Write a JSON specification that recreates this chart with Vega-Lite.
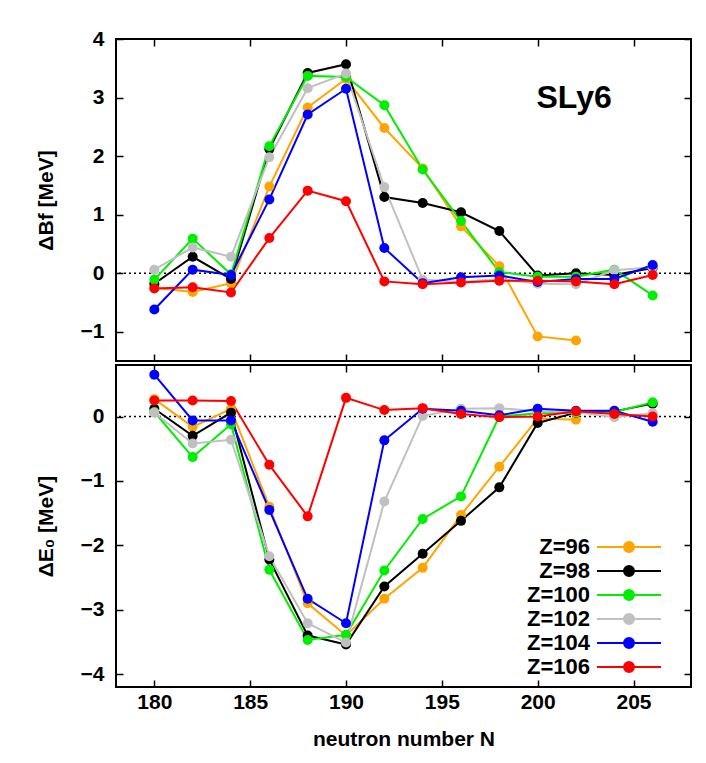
{
  "$schema": "https://vega.github.io/schema/vega-lite/v6.json",
  "padding": {"left": 34, "top": 27, "right": 16, "bottom": 8},
  "background": "white",
  "config": {
    "font": "Liberation Sans",
    "view": {"stroke": "black", "strokeWidth": 2},
    "concat": {"spacing": 0},
    "axis": {
      "domain": false, "grid": false, "tickSize": -7, "tickWidth": 1.5, "tickColor": "black",
      "labelFont": "Liberation Sans", "labelFontSize": 21, "labelFontWeight": "bold", "labelColor": "black", "labelPadding": 19,
      "titleFont": "Liberation Sans", "titleFontSize": 21, "titleFontWeight": "bold", "titleColor": "black"
    }
  },
  "datasets": {
    "rows": [
      {"N":180,"Z":"Z=96","dBf":-0.25,"dE0":0.27},{"N":182,"Z":"Z=96","dBf":-0.32,"dE0":-0.16},{"N":184,"Z":"Z=96","dBf":-0.17,"dE0":0.12},{"N":186,"Z":"Z=96","dBf":1.48,"dE0":-1.40},{"N":188,"Z":"Z=96","dBf":2.83,"dE0":-2.90},{"N":190,"Z":"Z=96","dBf":3.32,"dE0":-3.40},{"N":192,"Z":"Z=96","dBf":2.48,"dE0":-2.83},{"N":194,"Z":"Z=96","dBf":1.79,"dE0":-2.35},{"N":196,"Z":"Z=96","dBf":0.80,"dE0":-1.53},{"N":198,"Z":"Z=96","dBf":0.12,"dE0":-0.78},{"N":200,"Z":"Z=96","dBf":-1.08,"dE0":-0.03},{"N":202,"Z":"Z=96","dBf":-1.15,"dE0":-0.05},
      {"N":180,"Z":"Z=98","dBf":-0.18,"dE0":0.12},{"N":182,"Z":"Z=98","dBf":0.28,"dE0":-0.30},{"N":184,"Z":"Z=98","dBf":-0.10,"dE0":0.06},{"N":186,"Z":"Z=98","dBf":2.12,"dE0":-2.22},{"N":188,"Z":"Z=98","dBf":3.42,"dE0":-3.40},{"N":190,"Z":"Z=98","dBf":3.57,"dE0":-3.54},{"N":192,"Z":"Z=98","dBf":1.30,"dE0":-2.64},{"N":194,"Z":"Z=98","dBf":1.20,"dE0":-2.13},{"N":196,"Z":"Z=98","dBf":1.04,"dE0":-1.62},{"N":198,"Z":"Z=98","dBf":0.72,"dE0":-1.10},{"N":200,"Z":"Z=98","dBf":-0.04,"dE0":-0.10},{"N":202,"Z":"Z=98","dBf":0.0,"dE0":0.06},{"N":204,"Z":"Z=98","dBf":-0.03,"dE0":0.08},{"N":206,"Z":"Z=98","dBf":0.09,"dE0":0.20},
      {"N":180,"Z":"Z=100","dBf":-0.11,"dE0":0.07},{"N":182,"Z":"Z=100","dBf":0.59,"dE0":-0.63},{"N":184,"Z":"Z=100","dBf":-0.02,"dE0":-0.12},{"N":186,"Z":"Z=100","dBf":2.17,"dE0":-2.38},{"N":188,"Z":"Z=100","dBf":3.37,"dE0":-3.47},{"N":190,"Z":"Z=100","dBf":3.35,"dE0":-3.39},{"N":192,"Z":"Z=100","dBf":2.87,"dE0":-2.39},{"N":194,"Z":"Z=100","dBf":1.77,"dE0":-1.59},{"N":196,"Z":"Z=100","dBf":0.89,"dE0":-1.24},{"N":198,"Z":"Z=100","dBf":0.02,"dE0":0.00},{"N":200,"Z":"Z=100","dBf":-0.06,"dE0":0.05},{"N":202,"Z":"Z=100","dBf":-0.06,"dE0":0.06},{"N":204,"Z":"Z=100","dBf":0.06,"dE0":0.07},{"N":206,"Z":"Z=100","dBf":-0.38,"dE0":0.22},
      {"N":180,"Z":"Z=102","dBf":0.06,"dE0":0.06},{"N":182,"Z":"Z=102","dBf":0.44,"dE0":-0.42},{"N":184,"Z":"Z=102","dBf":0.28,"dE0":-0.36},{"N":186,"Z":"Z=102","dBf":1.98,"dE0":-2.17},{"N":188,"Z":"Z=102","dBf":3.16,"dE0":-3.21},{"N":190,"Z":"Z=102","dBf":3.41,"dE0":-3.51},{"N":192,"Z":"Z=102","dBf":1.47,"dE0":-1.32},{"N":194,"Z":"Z=102","dBf":-0.11,"dE0":0.01},{"N":196,"Z":"Z=102","dBf":-0.15,"dE0":0.12},{"N":198,"Z":"Z=102","dBf":-0.10,"dE0":0.13},{"N":200,"Z":"Z=102","dBf":-0.18,"dE0":0.08},{"N":202,"Z":"Z=102","dBf":-0.19,"dE0":0.07},{"N":204,"Z":"Z=102","dBf":0.05,"dE0":-0.01},{"N":206,"Z":"Z=102","dBf":0.10,"dE0":0.05},
      {"N":180,"Z":"Z=104","dBf":-0.62,"dE0":0.65},{"N":182,"Z":"Z=104","dBf":0.06,"dE0":-0.06},{"N":184,"Z":"Z=104","dBf":-0.03,"dE0":-0.06},{"N":186,"Z":"Z=104","dBf":1.26,"dE0":-1.45},{"N":188,"Z":"Z=104","dBf":2.71,"dE0":-2.83},{"N":190,"Z":"Z=104","dBf":3.15,"dE0":-3.21},{"N":192,"Z":"Z=104","dBf":0.43,"dE0":-0.37},{"N":194,"Z":"Z=104","dBf":-0.17,"dE0":0.12},{"N":196,"Z":"Z=104","dBf":-0.07,"dE0":0.09},{"N":198,"Z":"Z=104","dBf":-0.04,"dE0":0.02},{"N":200,"Z":"Z=104","dBf":-0.15,"dE0":0.12},{"N":202,"Z":"Z=104","dBf":-0.10,"dE0":0.09},{"N":204,"Z":"Z=104","dBf":-0.10,"dE0":0.09},{"N":206,"Z":"Z=104","dBf":0.14,"dE0":-0.08},
      {"N":180,"Z":"Z=106","dBf":-0.26,"dE0":0.25},{"N":182,"Z":"Z=106","dBf":-0.24,"dE0":0.25},{"N":184,"Z":"Z=106","dBf":-0.33,"dE0":0.24},{"N":186,"Z":"Z=106","dBf":0.60,"dE0":-0.75},{"N":188,"Z":"Z=106","dBf":1.41,"dE0":-1.55},{"N":190,"Z":"Z=106","dBf":1.23,"dE0":0.29},{"N":192,"Z":"Z=106","dBf":-0.14,"dE0":0.10},{"N":194,"Z":"Z=106","dBf":-0.19,"dE0":0.13},{"N":196,"Z":"Z=106","dBf":-0.16,"dE0":0.04},{"N":198,"Z":"Z=106","dBf":-0.13,"dE0":-0.01},{"N":200,"Z":"Z=106","dBf":-0.13,"dE0":0.00},{"N":202,"Z":"Z=106","dBf":-0.14,"dE0":0.08},{"N":204,"Z":"Z=106","dBf":-0.19,"dE0":0.04},{"N":206,"Z":"Z=106","dBf":-0.03,"dE0":0.00}
    ]
  },
  "data": {"name": "rows"},
  "resolve": {"legend": {"color": "independent"}},
  "vconcat": [
    {
      "width": 575, "height": 322,
      "resolve": {"axis": {"x": "independent", "y": "independent"}},
      "layer": [
        {
          "data": {"values": [{"ref": 0}]},
          "mark": {"type": "rule", "strokeDash": [2, 3], "strokeWidth": 1.5, "color": "black"},
          "encoding": {"y": {"field": "ref", "type": "quantitative", "scale": {"domain": [-1.5, 4]}, "axis": null}}
        },
        {
          "mark": {"type": "line", "strokeWidth": 2},
          "encoding": {
            "x": {"field": "N", "type": "quantitative", "scale": {"domain": [178, 208], "nice": false}, "axis": {"orient": "bottom", "values": [180,185,190,195,200,205], "labels": false, "title": null}},
            "y": {"field": "dBf", "type": "quantitative", "scale": {"domain": [-1.5, 4], "nice": false}, "axis": {"orient": "left", "values": [-1,0,1,2,3,4], "title": "ΔBf [MeV]", "titlePadding": 24, "labelFontSize": 21, "labelFontWeight": "bold", "titleFontSize": 21, "titleFontWeight": "bold", "labelPadding": 19}},
            "color": {"field": "Z", "type": "nominal", "scale": {"domain": ["Z=96","Z=98","Z=100","Z=102","Z=104","Z=106"], "range": ["#ffa500","#000000","#00ee00","#c0c0c0","#0000ff","#ff0000"]}, "legend": null}
          }
        },
        {
          "mark": {"type": "point", "filled": true, "size": 100, "opacity": 1},
          "encoding": {
            "x": {"field": "N", "type": "quantitative", "scale": {"domain": [178, 208], "nice": false}, "axis": {"orient": "top", "values": [180,185,190,195,200,205], "labels": false, "title": null}},
            "y": {"field": "dBf", "type": "quantitative", "scale": {"domain": [-1.5, 4], "nice": false}, "axis": {"orient": "right", "values": [-1,0,1,2,3,4], "labels": false, "title": null}},
            "color": {"field": "Z", "type": "nominal", "legend": null}
          }
        },
        {
          "data": {"values": [{"label": "SLy6", "N": 201.9, "v": 3.0}]},
          "mark": {"type": "text", "font": "Liberation Sans", "fontSize": 32, "fontWeight": "bold", "color": "black", "baseline": "middle", "align": "center"},
          "encoding": {
            "x": {"field": "N", "type": "quantitative", "scale": {"domain": [178, 208]}, "axis": null},
            "y": {"field": "v", "type": "quantitative", "scale": {"domain": [-1.5, 4]}, "axis": null},
            "text": {"field": "label"}
          }
        }
      ]
    },
    {
      "width": 575, "height": 322,
      "resolve": {"axis": {"x": "independent", "y": "independent"}},
      "layer": [
        {
          "data": {"values": [{"ref": 0}]},
          "mark": {"type": "rule", "strokeDash": [2, 3], "strokeWidth": 1.5, "color": "black"},
          "encoding": {"y": {"field": "ref", "type": "quantitative", "scale": {"domain": [-4.2, 0.8]}, "axis": null}}
        },
        {
          "mark": {"type": "line", "strokeWidth": 2},
          "encoding": {
            "x": {"field": "N", "type": "quantitative", "scale": {"domain": [178, 208], "nice": false}, "axis": {"orient": "bottom", "values": [180,185,190,195,200,205], "title": "neutron number N", "titlePadding": 16, "labelFontSize": 21, "labelFontWeight": "bold", "titleFontSize": 21, "titleFontWeight": "bold", "labelPadding": 11}},
            "y": {"field": "dE0", "type": "quantitative", "scale": {"domain": [-4.2, 0.8], "nice": false}, "axis": {"orient": "left", "values": [-4,-3,-2,-1,0], "title": "ΔE₀ [MeV]", "titlePadding": 24, "labelFontSize": 21, "labelFontWeight": "bold", "titleFontSize": 21, "titleFontWeight": "bold", "labelPadding": 19}},
            "color": {"field": "Z", "type": "nominal",
              "legend": {"title": null, "orient": "none", "legendX": 502, "legendY": 171,
                "labelFont": "Liberation Sans", "labelFontSize": 22, "labelFontWeight": "bold", "labelColor": "black",
                "labelAlign": "right", "labelOffset": -50, "rowPadding": 2,
                "symbolType": "M-6.4,0L6.4,0M1,0A1,1,0,1,1,-1,0A1,1,0,1,1,1,0Z",
                "symbolSize": 100, "symbolStrokeWidth": 2,
                "encode": {"symbols": {"update": {"fill": {"scale": "color", "field": "value"}, "stroke": {"scale": "color", "field": "value"}, "strokeWidth": {"value": 2}, "opacity": {"value": 1}}}}}}
          }
        },
        {
          "mark": {"type": "point", "filled": true, "size": 100, "opacity": 1},
          "encoding": {
            "x": {"field": "N", "type": "quantitative", "scale": {"domain": [178, 208], "nice": false}, "axis": {"orient": "top", "values": [180,185,190,195,200,205], "labels": false, "title": null}},
            "y": {"field": "dE0", "type": "quantitative", "scale": {"domain": [-4.2, 0.8], "nice": false}, "axis": {"orient": "right", "values": [-4,-3,-2,-1,0], "labels": false, "title": null}},
            "color": {"field": "Z", "type": "nominal",
              "legend": {"title": null, "orient": "none", "legendX": 502, "legendY": 171,
                "labelFont": "Liberation Sans", "labelFontSize": 22, "labelFontWeight": "bold", "labelColor": "black",
                "labelAlign": "right", "labelOffset": -50, "rowPadding": 2,
                "symbolType": "M-6.4,0L6.4,0M1,0A1,1,0,1,1,-1,0A1,1,0,1,1,1,0Z",
                "symbolSize": 100, "symbolStrokeWidth": 2,
                "encode": {"symbols": {"update": {"fill": {"scale": "color", "field": "value"}, "stroke": {"scale": "color", "field": "value"}, "strokeWidth": {"value": 2}, "opacity": {"value": 1}}}}}}
          }
        }
      ]
    }
  ]
}
